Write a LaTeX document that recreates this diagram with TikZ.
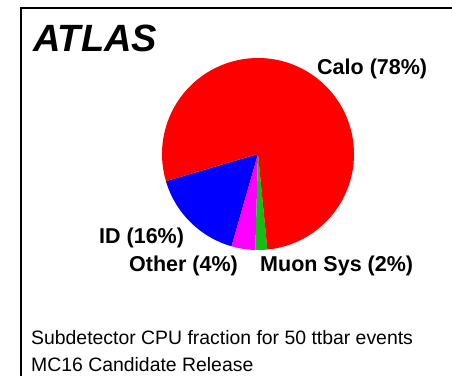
\documentclass[tikz,border=0pt]{standalone}
\usepackage{fontspec}
\setmainfont{Liberation Sans}
\definecolor{muongreen}{RGB}{20,190,20}
\definecolor{othermag}{RGB}{255,0,255}
\begin{document}
\begin{tikzpicture}[x=1pt, y=1pt, every node/.style={inner sep=0pt, anchor=base west},
    lbl/.style={font=\fontsize{21.5}{25}\selectfont\bfseries},
    capt/.style={font=\fontsize{19.4}{24}\selectfont}]
      \useasboundingbox (0,0) rectangle (452,376);

      % Frame
      \draw[line width=2pt] (21,0) -- (21,368) -- (452,368);

      % Pie slices
      \coordinate (c) at (258,222);
      \def\a{-163.6}
      \foreach \pct/\col in {16/blue, 4/othermag, 2/muongreen, 78/red} {
        \pgfmathsetmacro\b{\a+3.6*\pct}
        \fill[\col] (c) -- ++(\a:96) arc[start angle=\a, end angle=\b, radius=96] -- cycle;
        \xdef\a{\b}
      }

      % Labels
      \node[font=\fontsize{38}{40}\selectfont\bfseries\itshape] (title) at (33,325) {ATLAS};
      \node[lbl] (calo) at (317,302) {Calo (78\%)};
      \node[lbl] (id) at (99,133) {ID (16\%)};
      \node[lbl] (other) at (129,105) {Other (4\%)};
      \node[lbl] (muon) at (260,105) {Muon Sys (2\%)};

      % Caption
      \node[capt] (cap1) at (31,32) {Subdetector CPU fraction for 50 ttbar events};
      \node[capt] (cap2) at (31,5) {MC16 Candidate Release};
    \end{tikzpicture}
\end{document}
